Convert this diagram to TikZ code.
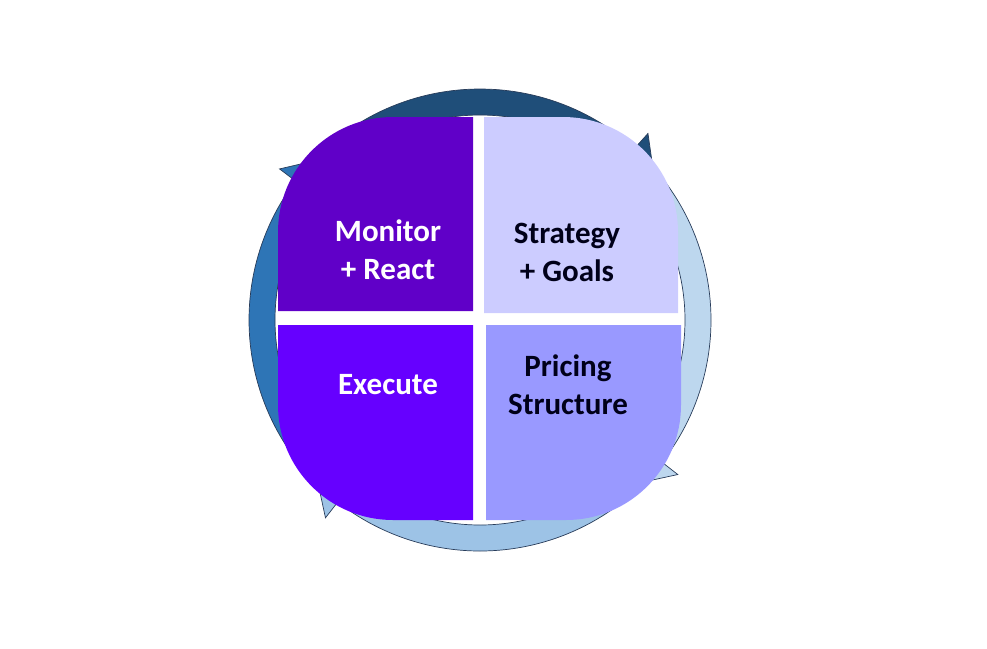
\documentclass[tikz,border=0pt]{standalone}
\usepackage{fontspec}
\setmainfont{Carlito}
\usetikzlibrary{calc}
\definecolor{navy}{RGB}{31,78,121}
\definecolor{midblue}{RGB}{46,117,182}
\definecolor{ltblue}{RGB}{189,215,238}
\definecolor{skyblue}{RGB}{157,195,230}
\definecolor{outl}{RGB}{40,60,90}
\begin{document}
\begin{tikzpicture}[x=1pt,y=1pt,
  lbl/.style={font=\bfseries\fontsize{31}{38}\selectfont,align=center},
  arr/.style={draw=outl,line width=0.7pt,line join=miter}]
\useasboundingbox (0,0) rectangle (987,-648);
\coordinate (c) at (480,-320);
\def\rin{205}\def\rout{231}\def\rhi{251}\def\rlo{186}\def\rmid{218}
\def\R{115}
\newcommand{\cyclearrow}[4]{%
  \fill[fill=#1,arr] ($(c)+(#2:\rout)$) arc[start angle=#2,end angle=#3,radius=\rout]
    -- ($(c)+(#3:\rhi)$) -- ($(c)+(#4:\rmid)$) -- ($(c)+(#3:\rlo)$)
    -- ($(c)+(#3:\rin)$) arc[start angle=#3,end angle=#2,radius=\rin] -- cycle;}
\cyclearrow{ltblue}{45}{-38}{-50}
\cyclearrow{skyblue}{-35}{-128}{-140}
\cyclearrow{midblue}{-140}{-217}{-229}
\cyclearrow{navy}{133}{48}{36}
\fill[fill={rgb,255:red,96;green,0;blue,200}] (473,-311) -- (473,-117) -- (278+\R,-117) arc[start angle=90,end angle=180,radius=\R] -- (278,-311) -- cycle;
\fill[fill={rgb,255:red,204;green,204;blue,255}] (484,-313) -- (484,-117) -- (678-\R,-117) arc[start angle=90,end angle=0,radius=\R] -- (678,-313) -- cycle;
\fill[fill={rgb,255:red,102;green,0;blue,255}] (473,-325) -- (473,-520) -- (278+\R,-520) arc[start angle=270,end angle=180,radius=\R] -- (278,-325) -- cycle;
\fill[fill={rgb,255:red,153;green,153;blue,255}] (486,-325) -- (486,-520) -- (681-\R,-520) arc[start angle=270,end angle=360,radius=\R] -- (681,-325) -- cycle;
\node[lbl,text=white] (mr) at (388,-250) {Monitor\\+ React};
\node[lbl,text=black!90!blue] (sg) at (567,-252) {Strategy\\+ Goals};
\node[lbl,text=white] (ex) at (388,-385) {Execute};
\node[lbl,text=black!90!blue] (ps) at (568,-385) {Pricing\\Structure};
\end{tikzpicture}
\end{document}
